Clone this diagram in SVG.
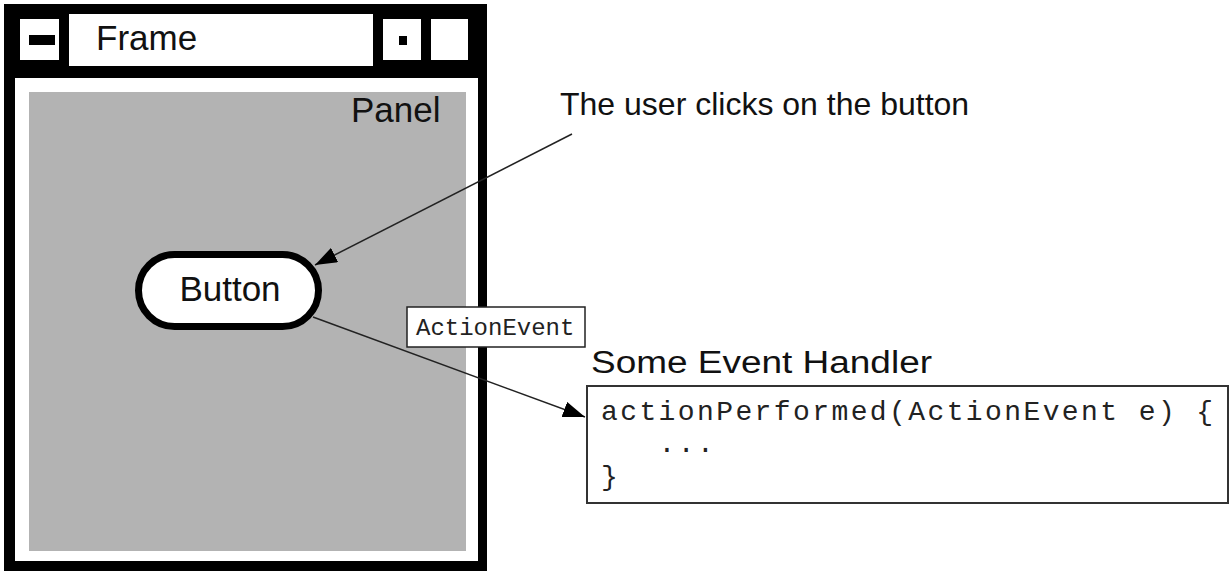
<svg xmlns="http://www.w3.org/2000/svg" width="1230" height="573" viewBox="0 0 1230 573">
  <style>
    .sans { font-family: "Liberation Sans", Arial, sans-serif; fill: #111; }
    .mono { font-family: "Liberation Mono", "Courier New", monospace; fill: #222; }
    .conn { stroke: #222; stroke-width: 1.5; fill: none; }
    .white { fill: #fff; }
    .black { fill: #000; }
  </style>
  <defs>
    <marker id="arrow" markerUnits="userSpaceOnUse" markerWidth="24" markerHeight="16" refX="22" refY="8" orient="auto">
      <path d="M0,0 L22,8 L0,16 Z" fill="#000"/>
    </marker>
  </defs>
  <rect width="1230" height="573" fill="#fff"/>

  <g id="frame">
    <rect class="black" x="4" y="4" width="483" height="567"/>
    <rect class="white" x="15" y="78" width="463" height="483"/>
    <rect class="white" x="20" y="19" width="39" height="41"/>
    <rect class="black" x="29" y="35" width="26" height="10"/>
    <rect class="white" x="69" y="14" width="304" height="52"/>
    <rect class="white" x="383" y="19" width="38" height="41"/>
    <rect class="black" x="399" y="36" width="8" height="9"/>
    <rect class="white" x="431" y="19" width="37" height="41"/>
    <text class="sans" x="96" y="50" font-size="35">Frame</text>
  </g>

  <g id="panel">
    <rect x="29" y="92" width="437" height="459" fill="#b3b3b3"/>
    <text class="sans" x="351" y="122" font-size="35">Panel</text>
  </g>

  <g id="button">
    <rect x="138.5" y="254.5" width="180" height="72" rx="36" ry="36" fill="#fff" stroke="#000" stroke-width="7"/>
    <text class="sans" x="230" y="301" font-size="35" text-anchor="middle">Button</text>
  </g>

  <g id="user-note">
    <text class="sans" x="560" y="115" font-size="32">The user clicks on the button</text>
  </g>

  <g id="handler">
    <text class="sans" x="591" y="373" font-size="31" textLength="341" lengthAdjust="spacingAndGlyphs">Some Event Handler</text>
    <rect x="587" y="386" width="641" height="117" fill="#fff" stroke="#333" stroke-width="2"/>
    <text class="mono" font-size="28" letter-spacing="2.4" xml:space="preserve"><tspan x="601" y="420">actionPerformed(ActionEvent e) {</tspan><tspan x="601" y="452">   ...</tspan><tspan x="601" y="485">}</tspan></text>
  </g>

  <g id="connectors">
    <line class="conn" x1="572" y1="134" x2="315" y2="265" marker-end="url(#arrow)"/>
    <line class="conn" x1="313" y1="317" x2="585" y2="417" marker-end="url(#arrow)"/>
  </g>

  <g id="action-event-label">
    <rect x="407" y="307" width="178" height="40" fill="#fff" stroke="#222" stroke-width="1.5"/>
    <text class="mono" x="416" y="335" font-size="24">ActionEvent</text>
  </g>
</svg>
